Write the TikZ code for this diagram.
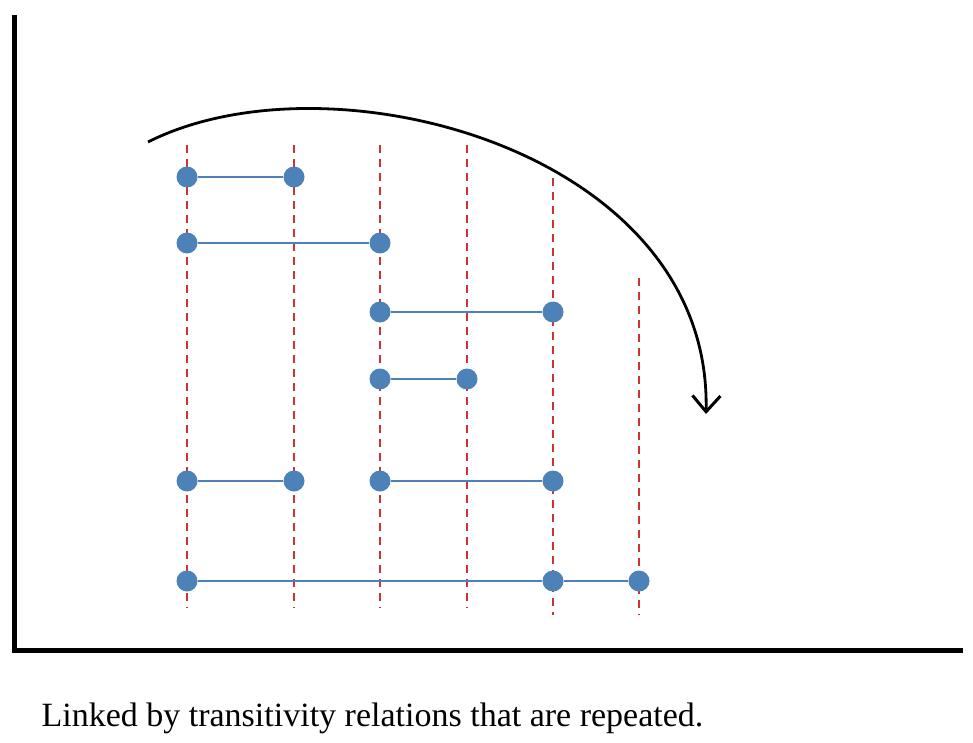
\documentclass[tikz,border=0pt]{standalone}
\usepackage{fontspec}
\setmainfont{Liberation Serif}
\usetikzlibrary{arrows.meta}
\begin{document}
\begin{tikzpicture}[x=1pt,y=-1pt,
 guide/.style={draw=red!75!black!80,dashed,line width=1.6pt,dash pattern=on 8pt off 6pt},
 seg/.style={draw=blue!50!cyan!60!black!70,line width=2.8pt},
 dot/.style={circle,fill=blue!50!cyan!60!black!70,inner sep=0pt,minimum size=21pt},
 axis/.style={line width=5pt}]
\useasboundingbox (0,0) rectangle (973,743);
\coordinate (o) at (14,650);
\coordinate (yt) at (14,15);
\coordinate (xr) at (963,650);
\draw[axis] (yt) -- (o) -- (xr);
\foreach \x/\a/\b in {187/145/608,294/145/608,380/145/608,467/145/608,553/178/615,639/278/615}
  \draw[guide] (\x,\a) -- (\x,\b);
\foreach \n/\x/\y in {a1/187/177,a2/294/177,b1/187/243,b2/380/243,c1/380/312,c2/553/312,d1/380/379,d2/467/379,e1/187/481,e2/294/481,f1/380/481,f2/553/481,g1/187/581,g2/553/581,g3/639/581}
  \node[dot] (\n) at (\x,\y) {};
\draw[seg] (a1)--(a2); \draw[seg] (b1)--(b2); \draw[seg] (c1)--(c2);
\draw[seg] (d1)--(d2); \draw[seg] (e1)--(e2); \draw[seg] (f1)--(f2);
\draw[seg] (g1)--(g2)--(g3);
\coordinate (s) at (148,142);
\coordinate (t) at (706,414);
\draw[line width=2.8pt,-{Straight Barb[length=16pt,width=28pt,line width=3pt]}] (s) .. controls (330,50) and (712,150) .. (t);
\node[font=\fontsize{34}{40}\selectfont,anchor=west] (cap) at (38,718) {Linked by transitivity relations that are repeated.};
\end{tikzpicture}
\end{document}
